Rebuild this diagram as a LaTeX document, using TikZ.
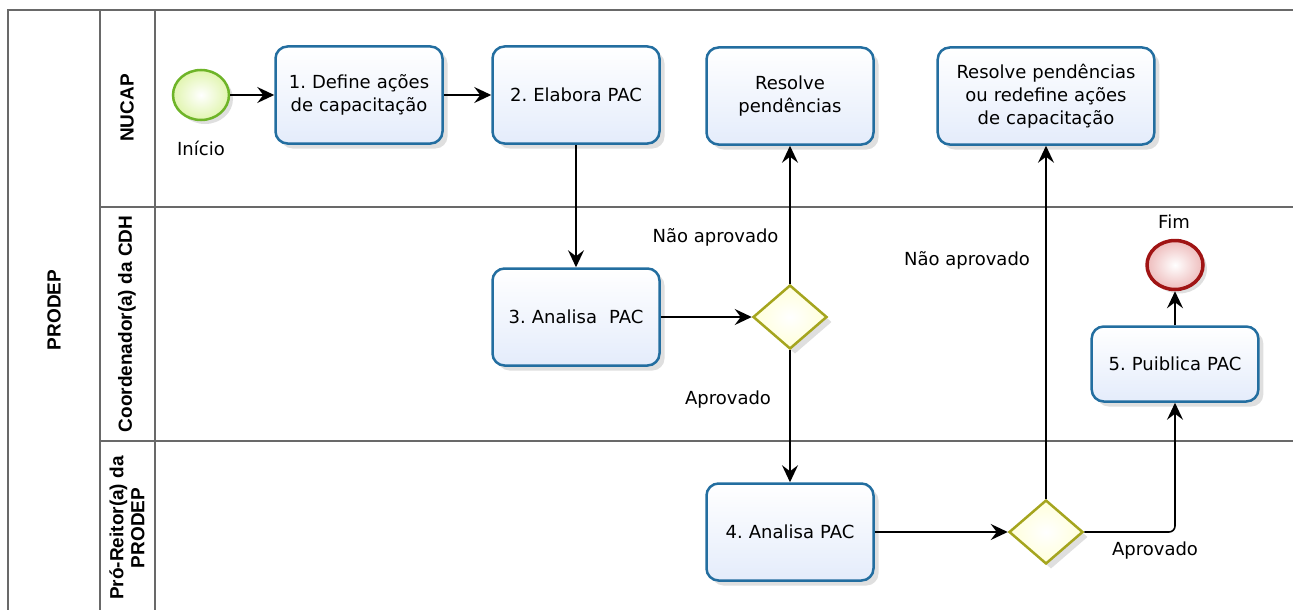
\documentclass[tikz,border=0pt]{standalone}
\usepackage{fontspec}
\setmainfont{DejaVu Sans}
\newfontfamily\lanefont{Liberation Sans}
\usetikzlibrary{arrows.meta,shapes.geometric,shadows}
\frenchspacing

\definecolor{taskline}{RGB}{35,110,160}
\definecolor{taskfill}{RGB}{228,236,251}
\definecolor{gateline}{RGB}{165,165,30}
\definecolor{gatefill}{RGB}{255,255,218}
\definecolor{startline}{RGB}{110,180,40}
\definecolor{startfill}{RGB}{225,245,175}
\definecolor{endline}{RGB}{160,20,20}
\definecolor{endfill}{RGB}{238,188,188}
\definecolor{laneline}{RGB}{105,105,105}

\tikzset{
  task/.style={draw=taskline, line width=2.5pt, rounded corners=12pt,
    top color=white, bottom color=taskfill, minimum width=167pt,
    minimum height=97pt, align=center, text width=160pt,
    font=\fontsize{18}{23}\selectfont,
    drop shadow={opacity=0.25, shadow xshift=5pt, shadow yshift=-5pt}},
  gateway/.style={diamond, draw=gateline, line width=2.5pt,
    inner color=white, outer color=gatefill,
    minimum width=74pt, minimum height=64pt, inner sep=0pt,
    drop shadow={opacity=0.25, shadow xshift=5pt, shadow yshift=-5pt}},
  startev/.style={ellipse, draw=startline, line width=2.5pt,
    inner color=white, outer color=startfill,
    minimum width=56pt, minimum height=50pt,
    drop shadow={opacity=0.25, shadow xshift=4pt, shadow yshift=-4pt}},
  endev/.style={ellipse, draw=endline, line width=3.5pt,
    inner color=white, outer color=endfill,
    minimum width=56pt, minimum height=49pt,
    drop shadow={opacity=0.25, shadow xshift=4pt, shadow yshift=-4pt}},
  lbl/.style={font=\fontsize{18}{22}\selectfont},
  lane/.style={rotate=90, align=center, font=\lanefont\bfseries\fontsize{19}{21}\selectfont},
  flow/.style={-{Stealth[length=17pt,width=16pt,inset=6pt]}, line width=1.6pt},
  frame/.style={draw=laneline, line width=2pt}
}

\begin{document}
\begin{tikzpicture}[x=1pt, y=-1pt]
  \useasboundingbox (0,0) rectangle (1293,610);

  % pool and lanes
  \draw[frame] (1293,10) -- (8,10) -- (8,610);
  \draw[frame] (100,10) -- (100,610);
  \draw[frame] (155,10) -- (155,610);
  \draw[frame] (100,207) -- (1293,207);
  \draw[frame] (100,441) -- (1293,441);

  \node[lane] (pool) at (54,310) {PRODEP};
  \node[lane] (nucap) at (127,108) {NUCAP};
  \node[lane] (cdh) at (127,324) {Coordenador(a) da CDH};
  \node[lane] (prodep) at (127,528) {Pró-Reitor(a) da\\PRODEP};

  % events, tasks and gateways
  \node[startev] (inicio) at (201,95) {};
  \node[lbl] (inicio-lbl) at (201,148) {Início};
  \node[task] (define) at (359,95) {1. Define ações\\de capacitação};
  \node[task] (elabora) at (576,95) {2. Elabora PAC};
  \node[task] (resolve) at (790,96) {Resolve\\pendências};
  \node[task, minimum width=215pt, text width=210pt] (redefine) at (1046,96)
    {Resolve pendências\\ou redefine ações\\de capacitação};
  \node[task] (analisa-cdh) at (576,317) {3. Analisa\ \ PAC};
  \node[gateway] (gw-cdh) at (790,317) {};
  \node[task] (analisa-prodep) at (790,532) {4. Analisa PAC};
  \node[gateway] (gw-prodep) at (1046,532) {};
  \node[task, minimum width=166pt, minimum height=75pt] (publica) at (1175,364) {5. Puiblica PAC};
  \node[endev] (fim) at (1175,265) {};
  \node[lbl] (fim-lbl) at (1174,222) {Fim};

  % flows
  \draw[flow] (inicio) -- (define);
  \draw[flow] (define) -- (elabora);
  \draw[flow] (elabora) -- (analisa-cdh);
  \draw[flow] (analisa-cdh) -- (gw-cdh);
  \draw[flow] (gw-cdh) -- (resolve);
  \draw[flow] (gw-cdh) -- (analisa-prodep);
  \draw[flow] (analisa-prodep) -- (gw-prodep);
  \draw[flow] (gw-prodep) -- (redefine);
  \draw[flow, rounded corners=6pt] (gw-prodep.east) -| (publica.south);
  \draw[flow] (publica) -- (fim);

  \node[lbl, anchor=east] (nao1) at (782,237) {Não aprovado};
  \node[lbl] (sim1) at (728,400) {Aprovado};
  \node[lbl] (nao2) at (967,260) {Não aprovado};
  \node[lbl] (sim2) at (1155,551) {Aprovado};
\end{tikzpicture}
\end{document}
